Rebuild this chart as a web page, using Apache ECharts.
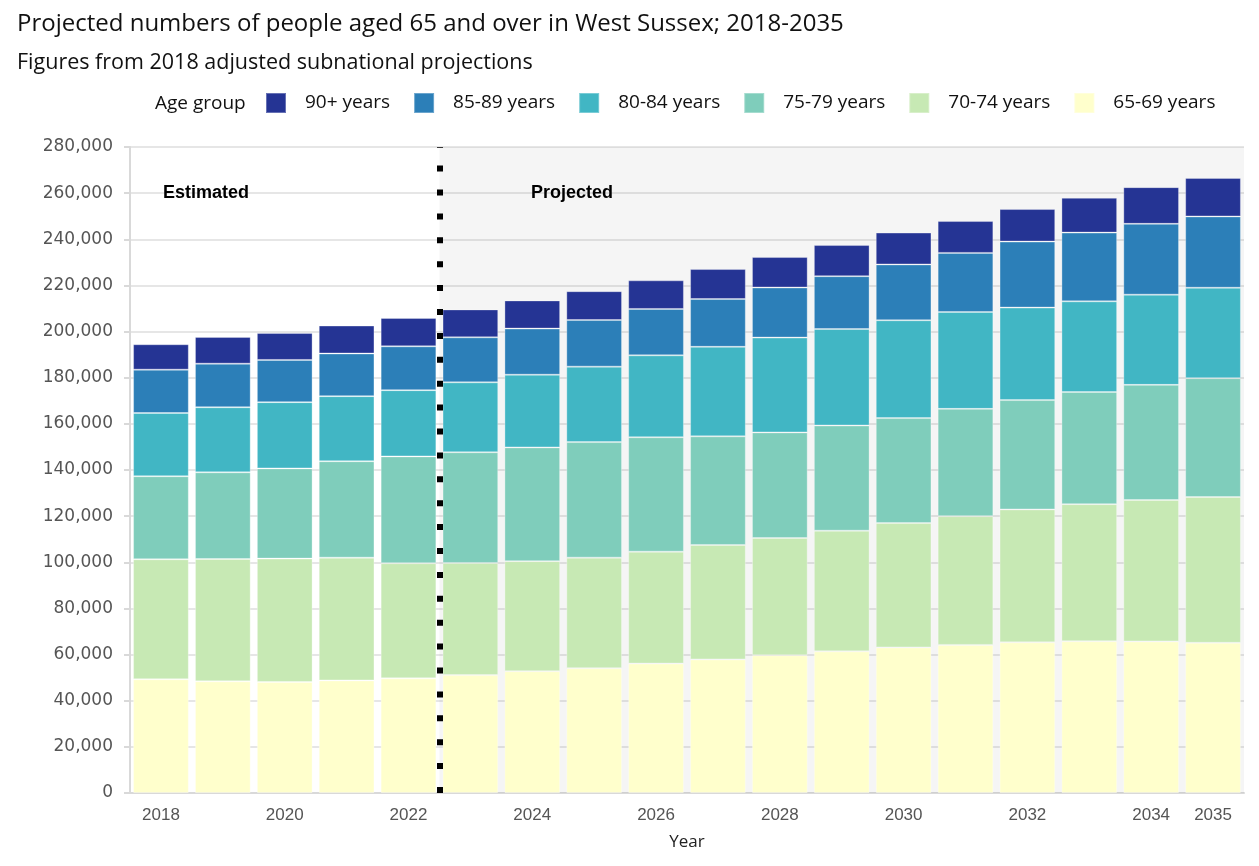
<!DOCTYPE html>
<html>
<head>
<meta charset="utf-8">
<script src="https://cdn.jsdelivr.net/npm/echarts@6/dist/echarts.min.js"></script>
<style>html,body{margin:0;padding:0;background:#fff;}#c{width:1259px;height:866px;}</style>
</head>
<body>
<div id="c"></div>
<script>
const years = ['2018','2019','2020','2021','2022','2023','2024','2025','2026','2027','2028','2029','2030','2031','2032','2033','2034','2035'];
const age65_69 = [49300,48400,48100,48800,49700,51100,52800,54100,56100,57900,59700,61400,63100,64200,65300,65800,65700,65100];
const age70_74 = [52000,53000,53500,53200,49900,48600,47700,47900,48500,49600,50800,52300,53900,55800,57600,59400,61300,63200];
const age75_79 = [36000,37600,39100,41800,46300,48000,49300,50100,49600,47100,45800,45600,45500,46500,47400,48600,49900,51500];
const age80_84 = [27400,28200,28700,28200,28700,30300,31500,32700,35500,38800,41100,41800,42400,42000,40100,39300,39100,39200];
const age85_89 = [18800,18900,18300,18500,19000,19500,20000,20200,20100,20700,21700,22900,24200,25600,28600,29800,30700,30900];
const age90plus = [11000,11600,11700,12100,12300,12100,12200,12500,12400,13000,13200,13500,13800,13800,14100,15100,15900,16700];
const yTicks = [0,20000,40000,60000,80000,100000,120000,140000,160000,180000,200000,220000,240000,260000,280000];
const shownYearLabels = ['2018','2020','2022','2024','2026','2028','2030','2032','2034','2035'];
const seriesNames = ['65-69 years','70-74 years','75-79 years','80-84 years','85-89 years','90+ years'];
const seriesData = [age65_69, age70_74, age75_79, age80_84, age85_89, age90plus];
const colors = ['#ffffcc','#c7e9b4','#7fcdbb','#41b6c4','#2c7fb8','#253494'];
const boundary = 4.5; // between 2022 and 2023

const chart = echarts.init(document.getElementById('c'), null, {renderer:'canvas'});
const fontMain = "'Liberation Sans', Arial, sans-serif";
const fontTitle = "'Open Sans', 'Liberation Sans', sans-serif";
const showLabel = (i, v) => shownYearLabels.indexOf(v) >= 0;

const barSeries = seriesNames.map((n, k) => ({
  name: n,
  type: 'bar',
  stack: 'total',
  barCategoryGap: '10%',
  data: seriesData[k],
  itemStyle: { color: colors[k], borderColor: 'rgba(255,255,255,0.3)', borderWidth: 1 },
  emphasis: { disabled: true },
  z: 2
}));

const option = {
  animation: false,
  backgroundColor: '#ffffff',
  title: {
    text: 'Projected numbers of people aged 65 and over in West Sussex; 2018-2035',
    subtext: 'Figures from 2018 adjusted subnational projections',
    left: 12, top: 7,
    itemGap: 16,
    textStyle: { fontFamily: fontTitle, fontSize: 24, fontWeight: 'normal', color: '#111' },
    subtextStyle: { fontFamily: fontTitle, fontSize: 21.5, color: '#111' }
  },
  legend: {
    data: ['90+ years','85-89 years','80-84 years','75-79 years','70-74 years','65-69 years'],
    left: 265, top: 92, padding: 0,
    itemWidth: 20, itemHeight: 20, itemGap: 23,
    icon: 'rect',
    textStyle: { fontFamily: fontTitle, fontSize: 19, color: '#111', padding: [0,0,0,14] }
  },
  graphic: [
    { type: 'text', left: 155, top: 94, style: { text: 'Age group', font: "19px 'Open Sans', sans-serif", fill: '#111' } },
    { type: 'text', left: 163, top: 184, z: 20, style: { text: 'Estimated', font: "bold 18px 'Liberation Sans', Arial, sans-serif", fill: '#000' } },
    { type: 'text', left: 531, top: 184, z: 20, style: { text: 'Projected', font: "bold 18px 'Liberation Sans', Arial, sans-serif", fill: '#000' } }
  ],
  grid: { left: 130, right: 15, top: 147, bottom: 73, containLabel: false },
  xAxis: [
    {
      type: 'category', data: years,
      name: 'Year', nameLocation: 'middle', nameGap: 41,
      nameTextStyle: { fontFamily: fontTitle, fontSize: 17, color: '#222' },
      axisLine: { lineStyle: { color: '#d9d9d9', width: 2 } },
      axisTick: { interval: showLabel, alignWithLabel: true, length: 6, lineStyle: { color: '#d9d9d9', width: 2 } },
      axisLabel: { interval: showLabel, fontFamily: fontMain, fontSize: 17, color: '#555', margin: 14 },
      splitLine: { show: false }
    },
    { type: 'value', min: -0.5, max: 17.5, show: false }
  ],
  yAxis: {
    type: 'value', min: 0, max: 280000, interval: 20000,
    axisLine: { show: true, onZero: false, lineStyle: { color: '#d9d9d9', width: 2 } },
    axisTick: { show: true, length: 6, lineStyle: { color: '#d9d9d9', width: 2 } },
    axisLabel: { fontFamily: "'DejaVu Sans', sans-serif", fontSize: 17, color: '#555', margin: 17,
      formatter: v => v.toLocaleString('en-US') },
    splitLine: { lineStyle: { color: '#e6e6e6', width: 2 } }
  },
  series: [
    {
      name: 'bg', type: 'line', xAxisIndex: 1, yAxisIndex: 0, data: [], z: 1, silent: true,
      markArea: { silent: true, itemStyle: { color: 'rgba(0,0,0,0.04)' },
        data: [[{ coord: [boundary, 0] }, { coord: [17.5, 280000] }]] }
    },
    ...barSeries,
    {
      name: 'divider', type: 'line', xAxisIndex: 1, yAxisIndex: 0, data: [], z: 10, silent: true,
      markLine: { silent: true, symbol: ['none','none'], label: { show: false },
        lineStyle: { color: '#000', width: 6, type: [6, 17.9], cap: 'butt' },
        data: [{ xAxis: boundary }] }
    }
  ]
};
chart.setOption(option);
</script>
</body>
</html>
